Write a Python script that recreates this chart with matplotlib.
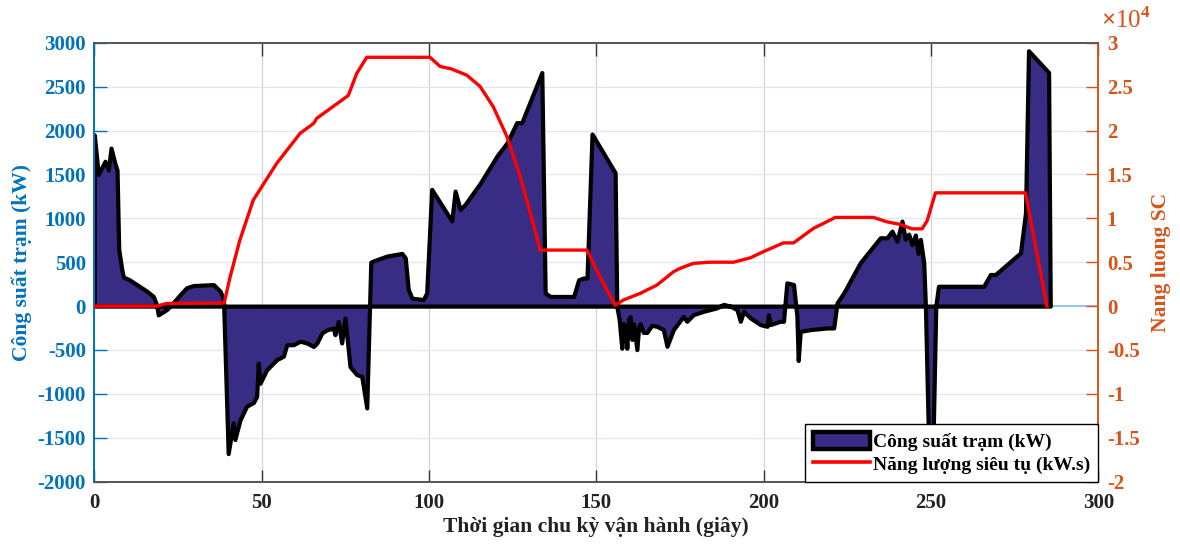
import matplotlib
matplotlib.use("Agg")
import matplotlib.pyplot as plt
from matplotlib.patches import Patch
from matplotlib.lines import Line2D
from matplotlib.ticker import FuncFormatter, MultipleLocator

# ---------------- data ----------------
time_power = [0, 1.2, 3.2, 4.2, 5.0, 6.2, 6.8, 7.3, 8.2, 8.7, 10.5, 12.7, 15.7, 17.6, 18.6, 19.1,
              21.6, 23.6, 26.1, 27.6, 29.6, 35.6, 37.6, 38.6, 40.0, 41.5, 42.0, 43.5, 45.5,
              47.5, 48.5, 49.0, 49.5, 51.5, 54.5, 56.5, 57.5, 59.5, 61.5, 63.5, 65.5, 66.5,
              68.0, 69.5, 71.4, 71.9, 72.9, 73.9, 74.9, 76.4, 78.4, 79.9, 81.4, 82.6, 83.4,
              87.4, 91.9, 92.9, 93.8, 94.9, 98.3, 99.3, 100.8, 106.8, 107.8, 109.3, 110.8,
              115.3, 120.3, 123.3, 126.2, 127.7, 133.7, 134.7, 136.2, 143.2, 144.7, 146.1,
              147.2, 148.7, 155.6, 156.1, 156.8, 157.6, 158.1, 158.6, 159.1, 159.6, 160.1,
              160.6, 161.1, 162.1, 162.6, 163.1, 164.0, 165.1, 166.5, 168.1, 170.0, 171.1,
              173.0, 176.0, 177.0, 179.0, 182.0, 186.0, 188.0, 190.0, 192.0, 193.0, 194.0,
              196.0, 199.0, 201.0, 201.4, 201.9, 204.9, 205.9, 206.9, 208.9, 209.9, 210.3,
              210.9, 213.9, 218.9, 220.9, 221.9, 223.9, 228.8, 232.8, 234.8, 236.8, 238.3,
              239.8, 241.3, 242.3, 243.3, 244.3, 245.3, 246.1, 246.8, 247.8, 248.3, 249.2,
              250.6, 251.4, 252.2, 265.7, 267.7, 269.2, 276.7, 278.2, 279.1, 285.1, 285.6]
power_kw = [1950, 1500, 1650, 1550, 1800, 1620, 1550, 650, 420, 330, 300, 245, 170, 112, 17, -100,
            -40, 40, 150, 210, 234, 245, 170, 75, -1680, -1330, -1520, -1300, -1140,
            -1100, -1030, -650, -880, -725, -610, -570, -440, -440, -400, -420, -460, -420,
            -305, -270, -250, -325, -175, -420, -135, -690, -780, -800, -1160, 500, 515,
            570, 600, 550, 190, 90, 75, 150, 1330, 970, 1310, 1100, 1160,
            1400, 1710, 1860, 2090, 2090, 2660, 150, 110, 110, 300, 320,
            320, 1960, 1520, 0, -150, -480, -200, -230, -480, -150, -120,
            -380, -200, -496, -250, -200, -300, -300, -220, -230, -268, -458,
            -268, -116, -173, -97, -59, -20, 20, 0, -40, -173, -59,
            -135, -211, -230, -97, -211, -173, -173, 265, 246, -116, -620,
            -288, -268, -249, -249, 37, 150, 493, 683, 778, 778, 854,
            740, 968, 760, 820, 700, 810, 600, 760, 493, 0, -1500,
            -1500, 0, 226, 226, 360, 360, 607, 1064, 2909, 2662, 0]

time_energy = [0, 18.6, 21.6, 38.8, 40.6, 43.5, 47.5, 54.5, 61.5, 65.5, 66.5, 73.4, 75.9,
               78.4, 81.4, 100.3, 103.3, 106.8, 111.3, 115.3, 119.2, 123.3, 127.2, 130.2,
               133.2, 147.2, 151.1, 155.6, 158.1, 163.1, 168.1, 173.0, 175.0, 179.0, 184.0,
               191.0, 196.0, 199.9, 205.9, 208.9, 214.9, 221.4, 232.8, 236.8, 240.8, 244.3,
               247.3, 248.8, 251.3, 278.2, 284.6]
energy_kws = [0, 0, 300, 350, 3350, 7530, 12080, 16260, 19680, 20800, 21400, 23300, 24000,
              26500, 28340, 28340, 27300, 27000, 26300, 25000, 22700, 19300, 14800, 10700,
              6380, 6380, 3300, 100, 700, 1450, 2400, 3900, 4300, 4870, 5000,
              5000, 5500, 6200, 7200, 7200, 8860, 10100, 10100, 9600, 9300, 8800,
              8800, 9700, 12900, 12900, 0]

x_ticks = [0, 50, 100, 150, 200, 250, 300]
left_ticks = [-2000, -1500, -1000, -500, 0, 500, 1000, 1500, 2000, 2500, 3000]

# ---------------- style ----------------
SERIF = ['Liberation Serif', 'DejaVu Serif']
plt.rcParams['font.family'] = SERIF
plt.rcParams['font.weight'] = 'bold'
plt.rcParams['mathtext.fontset'] = 'custom'
plt.rcParams['mathtext.rm'] = 'Liberation Serif'

BLUE = '#0072BD'
ORANGE = '#D95319'
NAVY = '#382C85'

fig = plt.figure(figsize=(11.8, 5.47), dpi=100)
ax = fig.add_axes([0.0799, 0.1194, 0.8510, 0.8025])
ax2 = ax.twinx()

ax.set_axisbelow(True)
ax.fill_between(time_power, power_kw, 0, facecolor=NAVY, edgecolor='black',
                linewidth=3.0, zorder=2)
ax.axhline(0, color='#8ec3e8', lw=1.3, zorder=0.8)

ax.set_xlim(0, 300)
ax.set_ylim(-2000, 3000)
ax.set_xticks(x_ticks)
ax.set_yticks(left_ticks)
ax.yaxis.set_major_formatter(FuncFormatter(lambda v, p: f"{int(v)}"))
ax.grid(True, axis='x', color='#d0d3d8', lw=0.9)
ax.grid(True, axis='y', color='#dbe8f5', lw=0.9)

ax.tick_params(axis='x', direction='in', top=True, length=9, width=1.0,
               labelsize=15, pad=8, colors='#333333')
ax.tick_params(axis='x', labelcolor='#222222')
ax.tick_params(axis='y', direction='in', length=9, width=1.0, labelsize=15, pad=6,
               colors=BLUE)
for lab in ax.get_xticklabels() + ax.get_yticklabels():
    lab.set_fontweight('bold')

ax.set_xlabel('Thời gian chu kỳ vận hành (giây)', fontsize=15.5, fontweight='bold',
              color='#222222', labelpad=3)
ax.set_ylabel('Công suất trạm (kW)', fontsize=15.5, fontweight='bold', color=BLUE,
              labelpad=4)

# right axis (energy)
ax2.plot(time_energy, energy_kws, color='#ff0000', lw=2.4, zorder=3)
ax2.set_ylim(-20000, 30000)
ax2.yaxis.set_major_locator(MultipleLocator(5000))
ax2.yaxis.set_major_formatter(FuncFormatter(lambda v, p: f"{v/1e4:g}"))
ax2.tick_params(axis='y', direction='in', length=9, width=1.0, labelsize=15, pad=6,
                colors=ORANGE)
for lab in ax2.get_yticklabels():
    lab.set_fontweight('bold')
ax2.set_ylabel('Nang luong SC', fontsize=15.5, fontweight='bold', color=ORANGE,
               rotation=90, labelpad=8)
ax2.text(1.003, 1.022, r'$\times$10$^{4}$', transform=ax2.transAxes, color=ORANGE,
         fontsize=18, ha='left', va='bottom', fontweight='normal')

for a in (ax, ax2):
    a.spines['left'].set_color(BLUE)
    a.spines['right'].set_color(ORANGE)
    a.spines['top'].set_color('#555555')
    a.spines['bottom'].set_color('#555555')
    for s in a.spines.values():
        s.set_linewidth(1.2)

handles = [Patch(facecolor=NAVY, edgecolor='black', linewidth=3.2),
           Line2D([0], [0], color='#ff0000', lw=2.6)]
leg = ax2.legend(handles, ['Công suất trạm (kW)', 'Năng lượng siêu tụ (kW.s)'],
                 loc='lower right', bbox_to_anchor=(1.0, 0.0), borderaxespad=0,
                 fancybox=False, framealpha=1, edgecolor='black',
                 prop={'family': SERIF, 'weight': 'bold', 'size': 14},
                 handlelength=2.9, handleheight=0.95, handletextpad=0.2,
                 borderpad=0.4, labelspacing=0.2)
leg.get_frame().set_linewidth(1.0)
leg.set_zorder(10)

fig.savefig('out.png', dpi=100)
